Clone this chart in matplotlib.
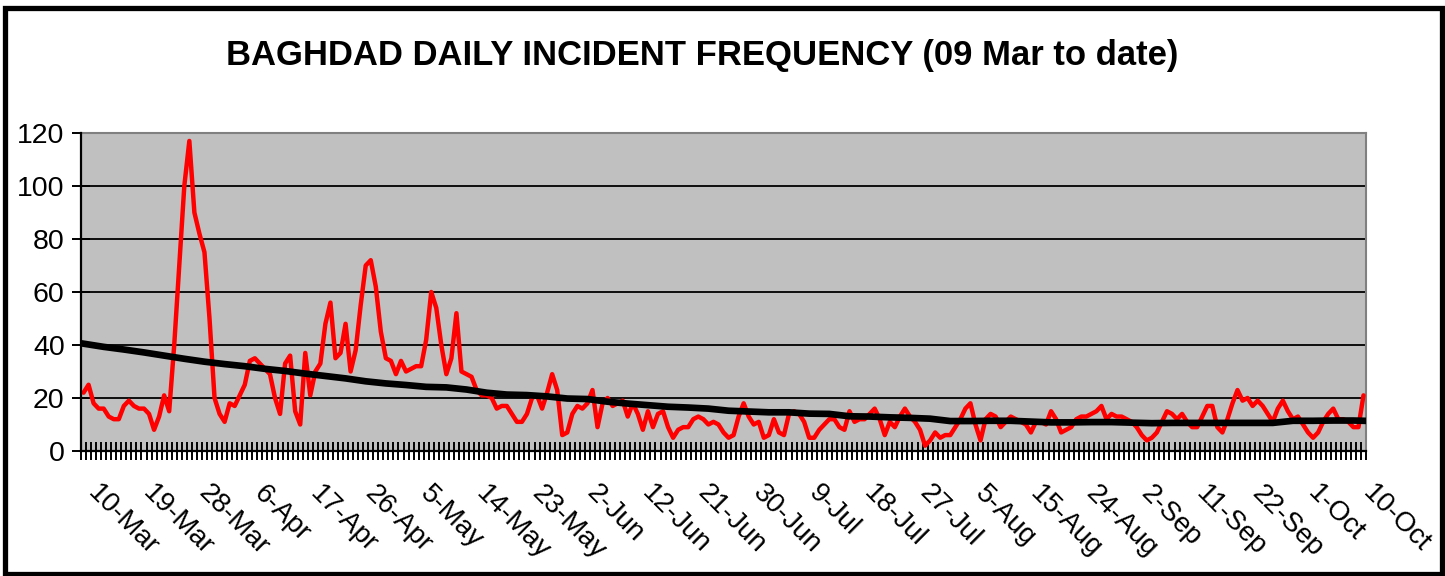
import matplotlib
matplotlib.use('Agg')
import matplotlib.pyplot as plt
from matplotlib.patches import Rectangle
import numpy as np

TITLE = "BAGHDAD DAILY INCIDENT FREQUENCY (09 Mar to date)"

# daily incident counts, one per category (09 Mar ... 10 Oct)
INCIDENTS = [
    22, 25, 18, 16, 16, 13, 12, 12, 17, 19,
    17, 16, 16, 14, 8, 13, 21, 15, 40, 70,
    100, 117, 90, 82, 75, 50, 20, 14, 11, 18,
    17, 21, 25, 34, 35, 33, 31, 29, 20, 14,
    33, 36, 15, 10, 37, 21, 30, 33, 48, 56,
    35, 37, 48, 30, 38, 55, 70, 72, 62, 45,
    35, 34, 29, 34, 30, 31, 32, 32, 42, 60,
    54, 40, 29, 35, 52, 30, 29, 28, 23, 21,
    21, 20, 16, 17, 17, 14, 11, 11, 14, 20,
    21, 16, 22, 29, 23, 6, 7, 14, 17, 16,
    18, 23, 9, 18, 20, 17, 18, 19, 13, 18,
    14, 8, 15, 9, 14, 15, 9, 5, 8, 9,
    9, 12, 13, 12, 10, 11, 10, 7, 5, 6,
    13, 18, 13, 10, 11, 5, 6, 12, 7, 6,
    14, 15, 14, 11, 5, 5, 8, 10, 12, 12,
    9, 8, 15, 11, 12, 12, 14, 16, 12, 6,
    11, 9, 13, 16, 13, 11, 8, 2, 4, 7,
    5, 6, 6, 9, 12, 16, 18, 10, 4, 12,
    14, 13, 9, 11, 13, 12, 11, 10, 7, 11,
    11, 10, 15, 12, 7, 8, 9, 12, 13, 13,
    14, 15, 17, 12, 14, 13, 13, 12, 11, 9,
    6, 4, 5, 7, 11, 15, 14, 12, 14, 11,
    9, 9, 13, 17, 17, 9, 7, 12, 18, 23,
    19, 20, 17, 19, 17, 14, 11, 16, 19, 15,
    12, 13, 10, 7, 5, 7, 11, 14, 16, 12,
    12, 11, 9, 9, 21,
]

# black average line, read at every 4th category (plus the last one)
TREND_POS = list(range(0, 253, 4)) + [254]
TREND = [
    40.5, 39.3, 38.3, 37.2, 36.0, 34.8, 33.7, 32.8, 32.0, 31.0,
    30.2, 29.2, 28.3, 27.4, 26.3, 25.5, 24.9, 24.2, 24.0, 23.2,
    22.0, 21.3, 21.1, 20.6, 19.8, 19.6, 18.6, 17.9, 17.3, 16.7,
    16.4, 16.0, 15.2, 14.9, 14.6, 14.6, 14.1, 14.0, 13.1, 13.0,
    12.7, 12.5, 12.2, 11.3, 11.3, 11.4, 11.4, 11.1, 10.8, 10.8,
    10.9, 10.9, 10.7, 10.5, 10.6, 10.6, 10.6, 10.6, 10.6, 10.6,
    11.4, 11.4, 11.5, 11.5, 11.4,
]

TICK_LABELS = ['10-Mar', '19-Mar', '28-Mar', '6-Apr', '17-Apr', '26-Apr',
               '5-May', '14-May', '23-May', '2-Jun', '12-Jun', '21-Jun',
               '30-Jun', '9-Jul', '18-Jul', '27-Jul', '5-Aug', '15-Aug',
               '24-Aug', '2-Sep', '11-Sep', '22-Sep', '1-Oct', '10-Oct']
LABEL_STEP = 11
Y_TICKS = [0, 20, 40, 60, 80, 100, 120]

plt.rcParams['font.family'] = ['Liberation Sans', 'DejaVu Sans']

W, H = 1445, 576
fig = plt.figure(figsize=(W / 100, H / 100), dpi=100)
fig.patch.set_facecolor('white')

# chart-area border
bx0, by0, bx1, by1 = 4.5, 7.5, 1442, 573.5
fig.patches.append(Rectangle((bx0 / W, 1 - by1 / H), (bx1 - bx0) / W, (by1 - by0) / H,
                             transform=fig.transFigure, fill=False,
                             edgecolor='black', lw=3.8))

L, R, T, B = 81, 1366, 133, 451
ax = fig.add_axes([L / W, 1 - B / H, (R - L) / W, (B - T) / H])
ax.set_facecolor('#C0C0C0')

n = len(INCIDENTS)
x = np.arange(n)
ax.plot(x, INCIDENTS, color='#FF0000', lw=3.2, solid_joinstyle='round',
        solid_capstyle='round', zorder=3)
ax.plot(TREND_POS, TREND, color='black', lw=4.8, solid_joinstyle='round', zorder=4)

ax.set_xlim(-0.5, n - 0.5)
ax.set_ylim(Y_TICKS[0], Y_TICKS[-1])
ax.set_yticks(Y_TICKS)
for v in Y_TICKS[1:-1]:
    ax.axhline(v, color='black', lw=1.3, zorder=1)

for s in ('top', 'right'):
    ax.spines[s].set_color('#808080')
    ax.spines[s].set_linewidth(1.5)
for s in ('left', 'bottom'):
    ax.spines[s].set_color('black')
    ax.spines[s].set_linewidth(1.6)
    ax.spines[s].set_zorder(5)

ax.set_xticks(np.arange(n + 1) - 0.5)
ax.tick_params(axis='x', which='major', direction='inout', length=13.5,
               width=1.4, color='black', labelbottom=False)

label_pos = [1 + LABEL_STEP * k for k in range(len(TICK_LABELS))]
for pos, lab in zip(label_pos, TICK_LABELS):
    ax.annotate(lab, xy=(pos, 0), xycoords=('data', 'axes fraction'),
                xytext=(9, -21), textcoords='offset points',
                rotation=-45, rotation_mode='anchor', ha='left', va='top',
                fontsize=20, annotation_clip=False)

ax.tick_params(axis='y', direction='inout', length=13.5, width=1.4,
               labelsize=20.5, pad=5)

fig.text(702 / W, 1 - 65 / H, TITLE, ha='center', va='baseline',
         fontsize=24.9, fontweight='bold')

fig.savefig('out.png', dpi=100)
